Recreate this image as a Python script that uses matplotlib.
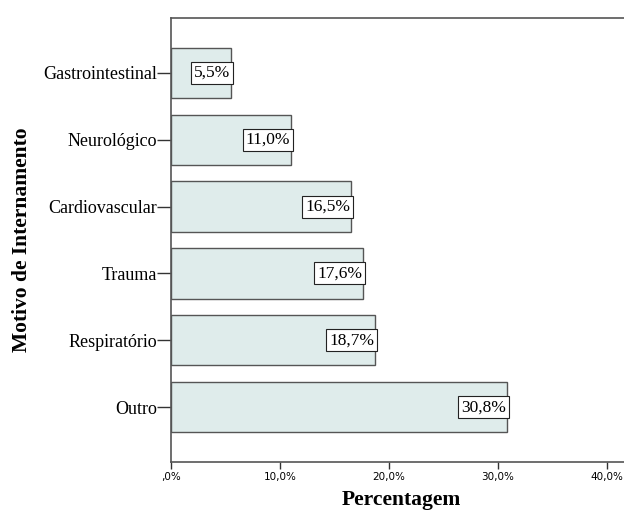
import matplotlib
matplotlib.use('Agg')
import matplotlib.pyplot as plt
import numpy as np

categories = ['Outro', 'Respiratório', 'Trauma', 'Cardiovascular', 'Neurológico', 'Gastrointestinal']
values = [30.8, 18.7, 17.6, 16.5, 11.0, 5.5]
xticks = [0, 10, 20, 30, 40]
xticklabels = [',0%', '10,0%', '20,0%', '30,0%', '40,0%']

fig = plt.figure(figsize=(6.24, 5.14), dpi=100)
# axes reaches past the right edge, as in the original (cropped)
ax = fig.add_axes([171 / 624, 52 / 514, 472 / 624, 444 / 514])

y = np.arange(len(categories))
ax.barh(y, values, height=0.75, color='#dfeceb', edgecolor='#555555', linewidth=1)

for yi, v in zip(y, values):
    ax.text(v - 0.05, yi, f'{v:.1f}%'.replace('.', ','), ha='right', va='center',
            family='Liberation Serif', fontsize=12.5,
            bbox=dict(boxstyle='square,pad=0.17', facecolor='white', edgecolor='#222222', linewidth=0.8))

ax.set_xlim(0, 472 / 10.9)
ax.set_ylim(-0.82, len(categories) - 1 + 0.82)
ax.set_xticks(xticks)
ax.set_xticklabels(xticklabels, fontsize=7.5, family='DejaVu Sans')
ax.set_yticks(y)
ax.set_yticklabels(categories, family='Liberation Serif', fontsize=13)
ax.tick_params(axis='y', length=10, width=1, color='#333333', pad=0)
ax.tick_params(axis='x', length=5, width=1, color='#333333', pad=2)

for s in ['left', 'top', 'bottom', 'right']:
    ax.spines[s].set_color('#555555')
    ax.spines[s].set_linewidth(1.2)

ax.set_xlabel('Percentagem', family='Liberation Serif', fontsize=15.5, fontweight='bold')
ax.xaxis.set_label_coords(0.487, -0.064)
ax.set_ylabel('Motivo de Internamento', family='Liberation Serif', fontsize=15.5, fontweight='bold', labelpad=8)

fig.savefig('out.png', dpi=100)
